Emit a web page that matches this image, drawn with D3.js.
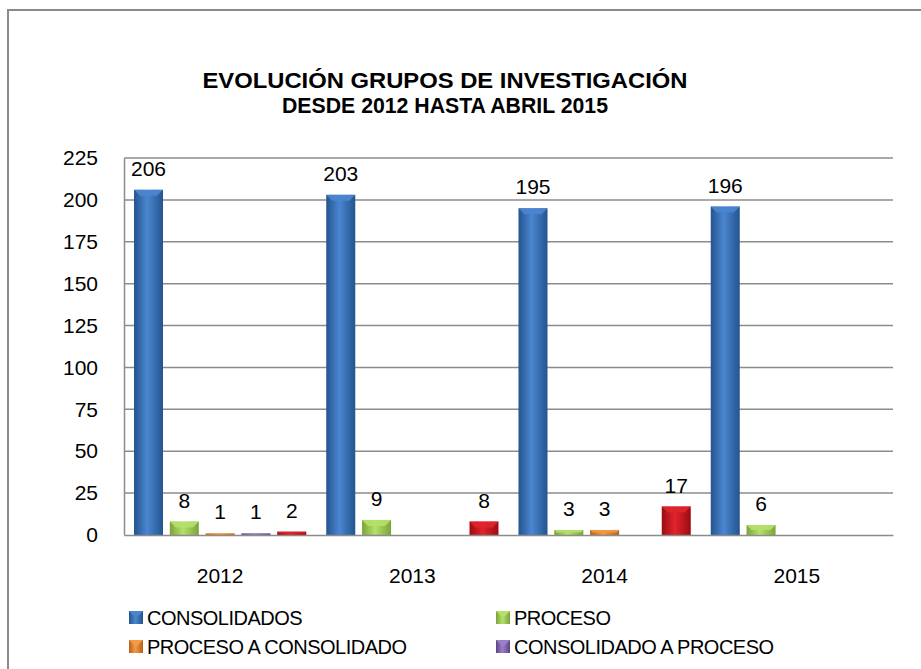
<!DOCTYPE html>
<html>
<head>
<meta charset="utf-8">
<script src="https://cdn.jsdelivr.net/npm/d3@7"></script>
<style>
  body { margin: 0; background: #fff; }
  svg { display: block; font-family: "Liberation Sans", Arial, sans-serif; }
</style>
</head>
<body>
<svg id="chart" width="921" height="669"></svg>
<script>
// data
var years = ["2012", "2013", "2014", "2015"]
var seriesKeys = ["consolidados", "proceso", "procesoAConsolidado", "consolidadoAProceso", "otros"]
var legendNames = ["CONSOLIDADOS", "PROCESO", "PROCESO A CONSOLIDADO", "CONSOLIDADO A PROCESO"]
var consolidados = [206, 203, 195, 196]
var proceso = [8, 9, 3, 6]
var procesoAConsolidado = [1, 0, 3, 0]
var consolidadoAProceso = [1, 0, 0, 0]
var otros = [2, 8, 17, 0]
var yTicks = [0, 25, 50, 75, 100, 125, 150, 175, 200, 225]
var titleLines = ["EVOLUCIÓN GRUPOS DE INVESTIGACIÓN", "DESDE 2012 HASTA ABRIL 2015"]
var titleWidths = [485, 326]

var colors = {
  consolidados: ["#24548f", "#4a86cf"],
  proceso: ["#7aa33a", "#b5e06a"],
  procesoAConsolidado: ["#b8601a", "#f39a45"],
  consolidadoAProceso: ["#5b4585", "#9a80c8"],
  otros: ["#9c0b12", "#e0242c"]
}

var valuesByKey = {
  consolidados: consolidados,
  proceso: proceso,
  procesoAConsolidado: procesoAConsolidado,
  consolidadoAProceso: consolidadoAProceso,
  otros: otros
}

var rows = []
years.forEach(function(yr, i) {
  seriesKeys.forEach(function(k) {
    rows.push({year: yr, key: k, value: valuesByKey[k][i]})
  })
})

var svg = d3.select("#chart")
var margin = {top: 158, right: 28, bottom: 134, left: 124}
var width = 921 - margin.left - margin.right
var height = 669 - margin.top - margin.bottom

// outer frame of the chart
svg.append("path")
  .attr("d", "M8,669 L8,10 L921,10")
  .attr("fill", "none")
  .attr("stroke", "#8a8a8a")
  .attr("stroke-width", 2)

// gradients
var defs = svg.append("defs")
seriesKeys.forEach(function(k) {
  var g = defs.append("linearGradient").attr("id", "grad-" + k)
    .attr("x1", "0%").attr("x2", "100%").attr("y1", "0%").attr("y2", "0%")
  g.append("stop").attr("offset", "0%").attr("stop-color", colors[k][0])
  g.append("stop").attr("offset", "45%").attr("stop-color", colors[k][1])
  g.append("stop").attr("offset", "100%").attr("stop-color", colors[k][0])
})

// title
svg.selectAll(".title")
  .data(titleLines)
  .enter()
  .append("text")
  .attr("class", "title")
  .attr("x", 445)
  .attr("y", function(d, i) { return 88 + i * 25 })
  .attr("text-anchor", "middle")
  .attr("textLength", function(d, i) { return titleWidths[i] })
  .attr("lengthAdjust", "spacingAndGlyphs")
  .style("font-weight", "bold")
  .style("font-size", "22px")
  .text(function(d) { return d })

var g = svg.append("g").attr("transform", "translate(" + margin.left + "," + margin.top + ")")

var x0 = d3.scaleBand().domain(years).range([0, width]).paddingInner(0.104).paddingOuter(0.052)
var x1 = d3.scaleBand().domain(seriesKeys).range([0, x0.bandwidth()]).paddingInner(0.19)
var y = d3.scaleLinear().domain([0, 225]).range([height, 0])

// gridlines
g.selectAll(".grid")
  .data(yTicks.slice(1))
  .enter()
  .append("line")
  .attr("x1", 0).attr("x2", width)
  .attr("y1", function(d) { return y(d) }).attr("y2", function(d) { return y(d) })
  .attr("stroke", "#8c8c8c")
  .attr("stroke-width", 1.5)

// y axis
var yAxis = g.append("g").call(d3.axisLeft(y).tickValues(yTicks).tickSize(0).tickPadding(26))
yAxis.select(".domain").attr("stroke", "#8c8c8c").attr("stroke-width", 1.5)
yAxis.selectAll("text").style("font-size", "21px").attr("fill", "#000")

// bars
var bars = g.selectAll(".bar")
  .data(rows.filter(function(d) { return d.value > 0 }))
  .enter()
  .append("g")
  .attr("transform", function(d) { return "translate(" + (x0(d.year) + x1(d.key)) + ",0)" })

bars.append("rect")
  .attr("x", 0)
  .attr("y", function(d) { return y(d.value) })
  .attr("width", x1.bandwidth())
  .attr("height", function(d) { return height - y(d.value) })
  .attr("fill", function(d) { return "url(#grad-" + d.key + ")" })

// top bevel
bars.append("path")
  .attr("d", function(d) {
    var bw = x1.bandwidth()
    var top = y(d.value)
    var h = Math.min(6, (height - top) / 2)
    return "M0," + top + " L" + bw + "," + top + " L" + (bw - h) + "," + (top + h) + " L" + h + "," + (top + h) + " Z"
  })
  .attr("fill", function(d) { return colors[d.key][1] })
  .attr("opacity", 0.9)

// x axis
var xAxis = g.append("g").attr("transform", "translate(0," + height + ")")
  .call(d3.axisBottom(x0).tickSize(0).tickPadding(33))
xAxis.select(".domain").attr("stroke", "#8c8c8c").attr("stroke-width", 1.5)
xAxis.selectAll("text").style("font-size", "21px").attr("fill", "#000")

// value labels
g.selectAll(".label")
  .data(rows.filter(function(d) { return d.value > 0 }))
  .enter()
  .append("text")
  .attr("x", function(d) { return x0(d.year) + x1(d.key) + x1.bandwidth() / 2 })
  .attr("y", function(d) { return y(d.value) - 14 })
  .attr("text-anchor", "middle")
  .style("font-size", "21px")
  .text(function(d) { return d.value })

// legend
var legend = svg.selectAll(".legend")
  .data(legendNames)
  .enter()
  .append("g")
  .attr("transform", function(d, i) {
    return "translate(" + (i % 2 === 0 ? 129 : 496) + "," + (Math.floor(i / 2) * 29 + 611) + ")"
  })

legend.append("rect")
  .attr("width", 14)
  .attr("height", 13)
  .attr("fill", function(d, i) { return "url(#grad-" + seriesKeys[i] + ")" })

legend.append("path")
  .attr("d", "M0,0 L14,0 L7,7 Z")
  .attr("fill", function(d, i) { return colors[seriesKeys[i]][1] })

legend.append("text")
  .attr("x", 18)
  .attr("y", 14)
  .style("font-size", "20px")
  .style("letter-spacing", "-0.5px")
  .text(function(d) { return d })
</script>
</body>
</html>
